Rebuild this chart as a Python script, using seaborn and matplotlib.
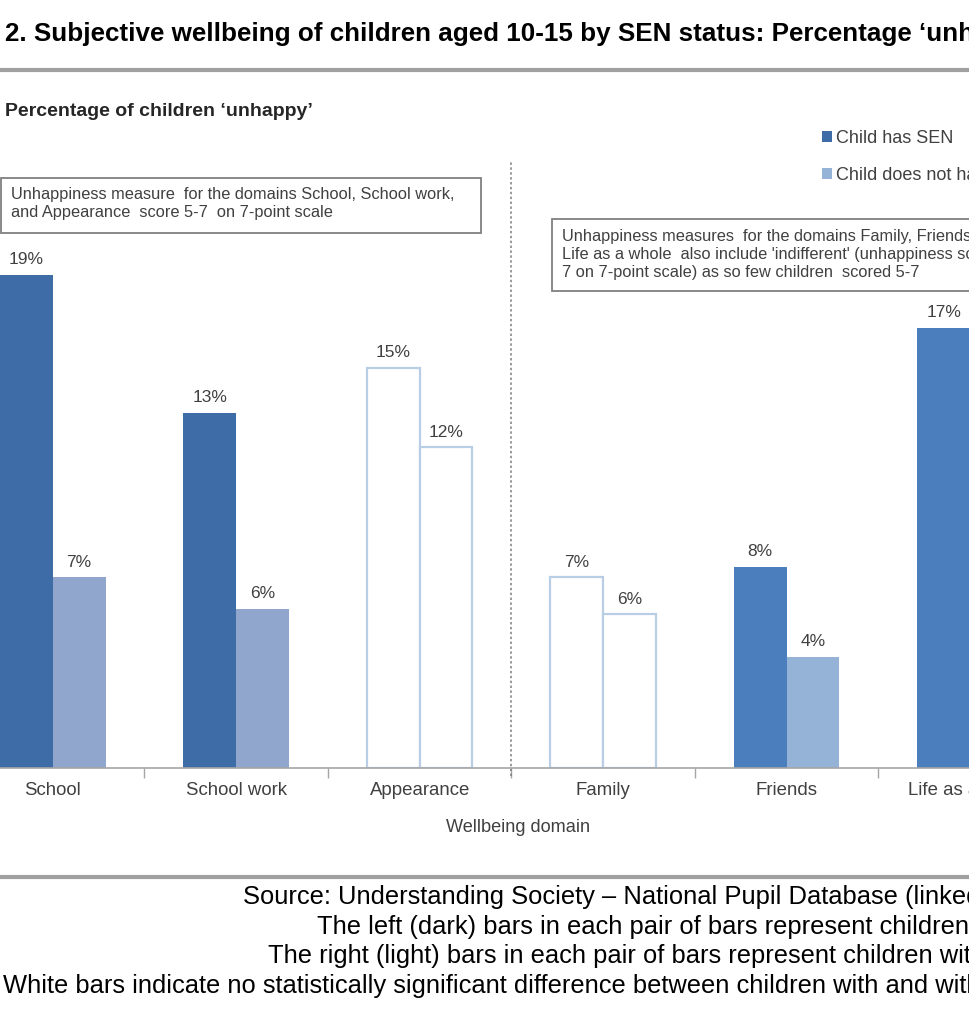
import numpy as np
import pandas as pd
import matplotlib
matplotlib.use("Agg")
import matplotlib.pyplot as plt
import seaborn as sns
from matplotlib.patches import Rectangle, Patch
from matplotlib.lines import Line2D

# ---------------- data ----------------
domains = ["School", "School work", "Appearance", "Family", "Friends", "Life as a whole"]
groups = ["Child has SEN", "Child does not have SEN"]
sen_values = [18.6, 13.4, 15.1, 7.2, 7.6, 16.6]
no_sen_values = [7.2, 6.0, 12.1, 5.8, 4.2, np.nan]
significant = [True, True, False, False, True, True]

title = "2. Subjective wellbeing of children aged 10-15 by SEN status: Percentage \u2018unhappy\u2019"
subtitle = "Percentage of children \u2018unhappy\u2019"
xlabel = "Wellbeing domain"
note_left = ["Unhappiness measure  for the domains School, School work,",
             "and Appearance  score 5-7  on 7-point scale"]
note_right = ["Unhappiness measures  for the domains Family, Friends and",
              "Life as a whole  also include 'indifferent' (unhappiness score 4-",
              "7 on 7-point scale) as so few children  scored 5-7"]
footer = ["Source: Understanding Society \u2013 National Pupil Database (linked data)",
          "The left (dark) bars in each pair of bars represent children with SEN",
          "The right (light) bars in each pair of bars represent children without SEN",
          "White bars indicate no statistically significant difference between children with and without SEN"]

df = pd.DataFrame({
    "domain": domains * 2,
    "group": [groups[0]] * len(domains) + [groups[1]] * len(domains),
    "value": sen_values + no_sen_values,
}).dropna()

# ---------------- style ----------------
sns.set_theme(style="white")
plt.rcParams["font.family"] = ["Liberation Sans", "DejaVu Sans"]

W, H = 970, 1024
fig = plt.figure(figsize=(W / 100, H / 100), dpi=100)


def fx(x):
    return x / W


def fy(y):
    return 1 - y / H


base_px, top_px = 768, 160
px_per_unit = 26.5
ax = fig.add_axes([0, fy(base_px), 1, (base_px - top_px) / H])

dark_l, light_l = "#3D6CA6", "#91A6CD"
dark_r, light_r = "#4A7EBC", "#95B3D7"
white_edge = "#B9CDE5"
text_grey = "#404040"

sns.barplot(data=df, x="domain", y="value", hue="group", order=domains,
            hue_order=groups, palette=[dark_r, light_r], width=0.575,
            errorbar=None, saturation=1, legend=False, ax=ax)

step = 186.0
c0 = 53.5
ax.set_xlim((0 - c0) / step, (W - c0) / step)
ax.set_ylim(0, (base_px - top_px) / px_per_unit)

for p in ax.patches:
    cx = p.get_x() + p.get_width() / 2
    i = int(round(cx))
    left_bar = cx < i
    h = p.get_height()
    if not np.isfinite(h):
        continue
    if not significant[i]:
        p.set_facecolor("white")
        p.set_edgecolor(white_edge)
        p.set_linewidth(1.6)
    else:
        if i < 3:
            p.set_facecolor(dark_l if left_bar else light_l)
        else:
            p.set_facecolor(dark_r if left_bar else light_r)
        p.set_edgecolor("none")
    ax.annotate(f"{h:.0f}%", (cx, h), xytext=(0, 5.5), textcoords="offset points",
                ha="center", va="bottom", fontsize=12.5, color=text_grey)

# axes styling
for s in ["top", "right", "left"]:
    ax.spines[s].set_visible(False)
ax.spines["bottom"].set_color("#A6A6A6")
ax.spines["bottom"].set_linewidth(1.2)
ax.set_yticks([])
ax.set_ylabel("")
ax.set_xlabel("")
ax.set_xticks(range(len(domains)))
ax.set_xticklabels(domains)
ax.set_xticks([i + 0.5 for i in range(len(domains) - 1)], minor=True)
ax.tick_params(axis="x", which="major", length=0, pad=10, labelsize=13.4, labelcolor=text_grey)
ax.tick_params(axis="x", which="minor", length=7, width=1, color="#A6A6A6", bottom=True)

# dashed divider
ax.plot([2.5, 2.5], [-0.3, (base_px - 160) / px_per_unit], ls=(0, (1.6, 1.6)), color="#7F7F7F",
        lw=1.1, clip_on=False)

# x label
fig.text(fx(518), fy(828), xlabel, ha="center", va="center", fontsize=13.1, color=text_grey)

# legend
handles = [Patch(facecolor=dark_l, edgecolor="none"), Patch(facecolor=light_r, edgecolor="none")]
fig.legend(handles, groups, loc="upper left", bbox_to_anchor=(fx(822), fy(130)),
           frameon=False, fontsize=13, handlelength=0.55, handleheight=0.55,
           handletextpad=0.25, labelspacing=1.1, borderaxespad=0, borderpad=0,
           labelcolor=text_grey)

# title and lines
fig.text(fx(5), fy(34), title, ha="left", va="center", fontsize=18.7, fontweight="bold", color="black")
fig.add_artist(Line2D([0, 1], [fy(70), fy(70)], color="#A0A0A0", lw=3))
fig.text(fx(5), fy(111), subtitle, ha="left", va="center", fontsize=14, fontweight="bold", color="#262626")
fig.add_artist(Line2D([0, 1], [fy(877), fy(877)], color="#A0A0A0", lw=3))

# note boxes
fig.add_artist(Rectangle((fx(0.5), fy(233)), fx(481), (233 - 178) / H, transform=fig.transFigure,
                         facecolor="white", edgecolor="#808080", lw=1.3))
for k, line in enumerate(note_left):
    fig.text(fx(11), fy(195 + 18 * k), line, ha="left", va="center", fontsize=11.8, color=text_grey)
fig.add_artist(Rectangle((fx(552), fy(291)), fx(500), (291 - 219) / H, transform=fig.transFigure,
                         facecolor="white", edgecolor="#808080", lw=1.3))
for k, line in enumerate(note_right):
    fig.text(fx(562), fy(236 + 18 * k), line, ha="left", va="center", fontsize=11.8, color=text_grey)

# footer
footer_x = [243, 317, 268, 3]
for k, line in enumerate(footer):
    fig.text(fx(footer_x[k]), fy(897 + 29.7 * k), line, ha="left", va="center",
             fontsize=18.4, color="black")

fig.savefig("out.png", dpi=100)
